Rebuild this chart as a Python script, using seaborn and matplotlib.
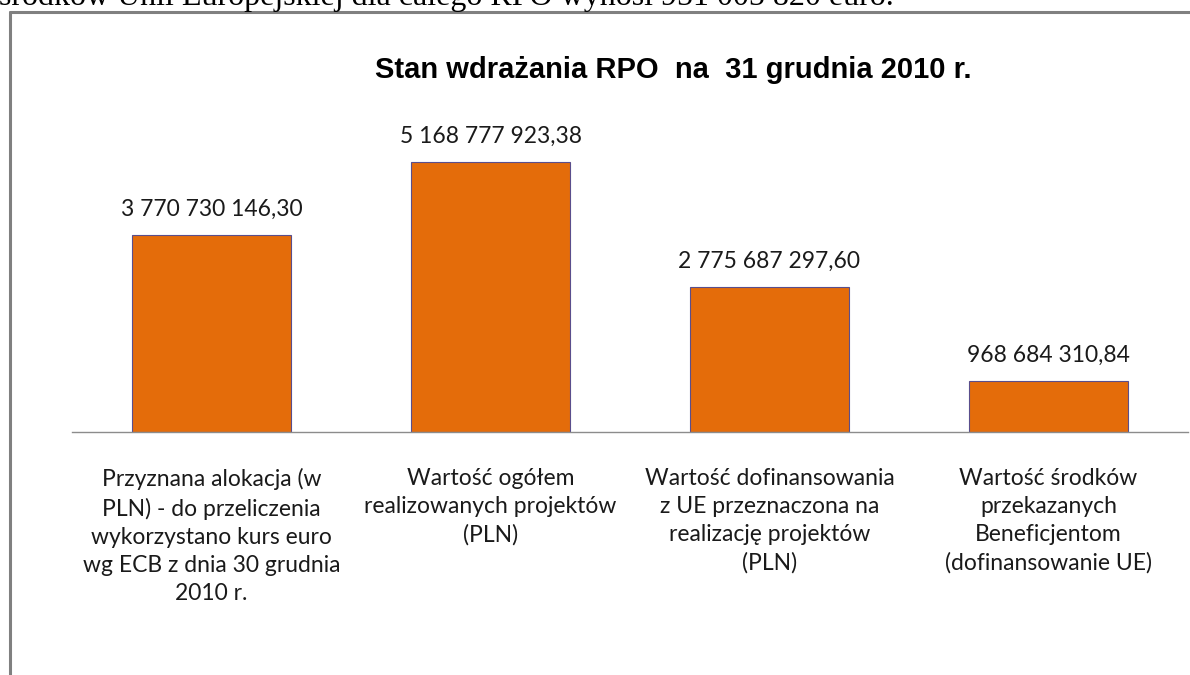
import matplotlib
matplotlib.use("Agg")
import matplotlib.pyplot as plt
from matplotlib.lines import Line2D
import seaborn as sns
import pandas as pd

categories = [
    "Przyznana alokacja (w\nPLN) - do przeliczenia\nwykorzystano kurs euro\nwg ECB z dnia 30 grudnia\n2010 r.",
    "Wartość ogółem\nrealizowanych projektów\n(PLN)",
    "Wartość dofinansowania\nz UE przeznaczona na\nrealizację projektów\n(PLN)",
    "Wartość środków\nprzekazanych\nBeneficjentom\n(dofinansowanie UE)",
]
values = [3770730146.30, 5168777923.38, 2775687297.60, 968684310.84]
title = "Stan wdrażania RPO  na  31 grudnia 2010 r."
top_text = "środków Unii Europejskiej dla całego RPO wynosi 951 005 820 euro."

sns.set_style("white")
plt.rcParams['font.family'] = ['Lato', 'DejaVu Sans']

W, H = 1190, 675
fig = plt.figure(figsize=(W / 100, H / 100), dpi=100)
fig.patch.set_facecolor("white")

ax = fig.add_axes([72 / W, 1 - 432 / H, (1188 - 72) / W, (432 - 100) / H])
df = pd.DataFrame({"cat": categories, "val": values})
sns.barplot(data=df, x="cat", y="val", ax=ax, color="#E46C0A", saturation=1,
            width=0.567, edgecolor="#5A4E8C", linewidth=0.8)

ax.set_ylim(0, 332 / 52.2 * 1e9)
ax.set_xlim(-0.5, len(categories) - 0.5)
ax.set_xlabel("")
ax.set_ylabel("")
ax.set_yticks([])
for s in ["left", "right", "top"]:
    ax.spines[s].set_visible(False)
ax.spines["bottom"].set_color("#8C8C8C")
ax.spines["bottom"].set_linewidth(1.0)
ax.tick_params(axis="x", length=0, pad=26, labelsize=16.5, colors="#1a1a1a")
for lab in ax.get_xticklabels():
    lab.set_linespacing(1.41)
    lab.set_horizontalalignment("center")

def fmt(v):
    return f"{v:,.2f}".replace(",", " ").replace(".", ",")

ax.bar_label(ax.containers[0], labels=[fmt(v) for v in values], padding=11,
             fontsize=16.5, color="#1a1a1a")

fig.text(375 / W, 1 - 78 / H, title, fontsize=21, fontweight="bold",
         family=["Liberation Sans", "DejaVu Sans"], ha="left", va="baseline",
         color="black")

fig.text(-0.001, 1 - 5 / H, top_text, fontsize=23,
         family=["Liberation Serif", "DejaVu Serif"], ha="left", va="baseline",
         color="black")

fig.add_artist(Line2D([10 / W, 1], [1 - 12 / H, 1 - 12 / H], transform=fig.transFigure,
                      color="#808080", linewidth=2.2))
fig.add_artist(Line2D([10 / W, 10 / W], [0, 1 - 12 / H], transform=fig.transFigure,
                      color="#808080", linewidth=2.2))

fig.savefig("out.png", dpi=100)
